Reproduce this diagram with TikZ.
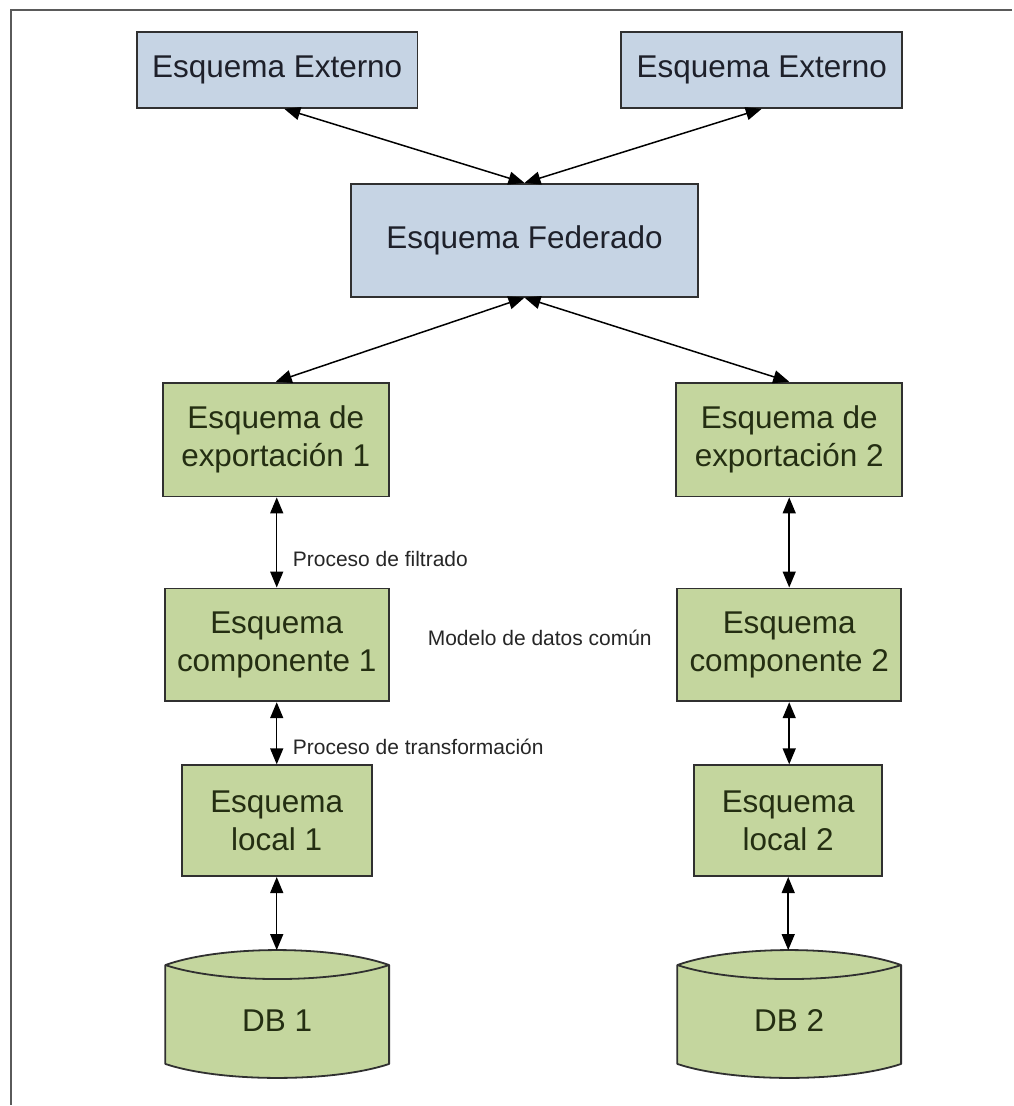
\documentclass[tikz,border=0pt]{standalone}
\usepackage{fontspec}
\setmainfont{Liberation Sans}
\usetikzlibrary{arrows.meta,calc}
\definecolor{boxblue}{RGB}{198,212,228}
\definecolor{boxgreen}{RGB}{196,214,158}
\definecolor{edgegray}{RGB}{48,48,48}
\definecolor{inkblue}{RGB}{30,32,42}
\definecolor{inkgreen}{RGB}{36,46,18}
\definecolor{framegray}{RGB}{90,90,90}

% database can drawn around the text node #1
\newcommand{\dbcan}[1]{%
  \path[fill=boxgreen,draw=edgegray,line width=1.8pt,line join=round]
    ($(#1.center)+(-112,-56)$) .. controls ($(#1.center)+(-56,-76)$) and ($(#1.center)+(56,-76)$) .. ($(#1.center)+(112,-56)$)
    -- ($(#1.center)+(112,43)$) .. controls ($(#1.center)+(56,61.67)$) and ($(#1.center)+(-56,61.67)$) .. ($(#1.center)+(-112,43)$)
    -- cycle;
  \draw[draw=edgegray,line width=1.8pt]
    ($(#1.center)+(-112,-56)$) .. controls ($(#1.center)+(-56,-37.33)$) and ($(#1.center)+(56,-37.33)$) .. ($(#1.center)+(112,-56)$);
  \coordinate (#1top) at ($(#1.center)+(0,-71)$);
}

\begin{document}
\begin{tikzpicture}[x=1pt,y=-1pt,
  schema/.style={draw=edgegray,line width=1.8pt,inner sep=0pt,align=center,
                 font=\fontsize{31.5}{38}\selectfont},
  fedbox/.style={schema,fill=boxblue,text=inkblue},
  compbox/.style={schema,fill=boxgreen,text=inkgreen},
  dbtext/.style={inner sep=0pt,font=\fontsize{31.5}{38}\selectfont,text=inkgreen},
  link/.style={line width=1.5pt,draw=black,
               {Triangle[length=16pt,width=13pt]}-{Triangle[length=16pt,width=13pt]}},
  note/.style={font=\fontsize{21}{24}\selectfont,text=black!85,anchor=west,inner sep=0pt}]

  % page and frame
  \fill[white] (0,0) rectangle (1013,1106);
  \draw[framegray,line width=2.2pt] (1013,10) -- (11,10) -- (11,1106);

  % external and federated schemas
  \node[fedbox,minimum width=281pt,minimum height=76pt] (ext1) at (277.5,70) {Esquema Externo};
  \node[fedbox,minimum width=281pt,minimum height=76pt] (ext2) at (762.5,70) {Esquema Externo};
  \node[fedbox,minimum width=348pt,minimum height=113pt] (fed) at (525,240.5) {Esquema Federado};

  % export schemas
  \node[compbox,minimum width=226pt,minimum height=114pt] (exp1) at (276,440) {Esquema de\\exportación 1};
  \node[compbox,minimum width=226pt,minimum height=114pt] (exp2) at (790,440) {Esquema de\\exportación 2};

  % component schemas
  \node[compbox,minimum width=224pt,minimum height=113pt] (cmp1) at (277,645.5) {Esquema\\componente 1};
  \node[compbox,minimum width=224pt,minimum height=113pt] (cmp2) at (790,645.5) {Esquema\\componente 2};

  % local schemas
  \node[compbox,minimum width=190pt,minimum height=111pt] (loc1) at (277,821.5) {Esquema\\local 1};
  \node[compbox,minimum width=188pt,minimum height=111pt] (loc2) at (789,821.5) {Esquema\\local 2};

  % databases
  \node[dbtext] (db1) at (277.5,1022) {};
  \node[dbtext] (db2) at (790,1022) {};
  \dbcan{db1}
  \dbcan{db2}
  \node[dbtext] (db1label) at (db1.center) {DB 1};
  \node[dbtext] (db2label) at (db2.center) {DB 2};

  % connectors
  \draw[link] ([xshift=7pt]ext1.south) -- (fed.north);
  \draw[link] (ext2.south) -- (fed.north);
  \draw[link] (fed.south) -- (exp1.north);
  \draw[link] (fed.south) -- (exp2.north);

  \draw[link] (exp1.south -| cmp1.north) -- (cmp1.north);
  \draw[link] (cmp1.south) -- (cmp1.south |- loc1.north);
  \draw[link] (loc1.south) -- (loc1.south |- db1top);

  \draw[link] (exp2.south) -- (exp2.south |- cmp2.north);
  \draw[link] (cmp2.south) -- (cmp2.south |- loc2.north);
  \draw[link] (loc2.south) -- (loc2.south |- db2top);

  % annotations
  \node[note] (filtro) at (293,560) {Proceso de filtrado};
  \node[note] (modelo) at (428,639) {Modelo de datos común};
  \node[note] (transf) at (293,748) {Proceso de transformación};
\end{tikzpicture}
\end{document}
